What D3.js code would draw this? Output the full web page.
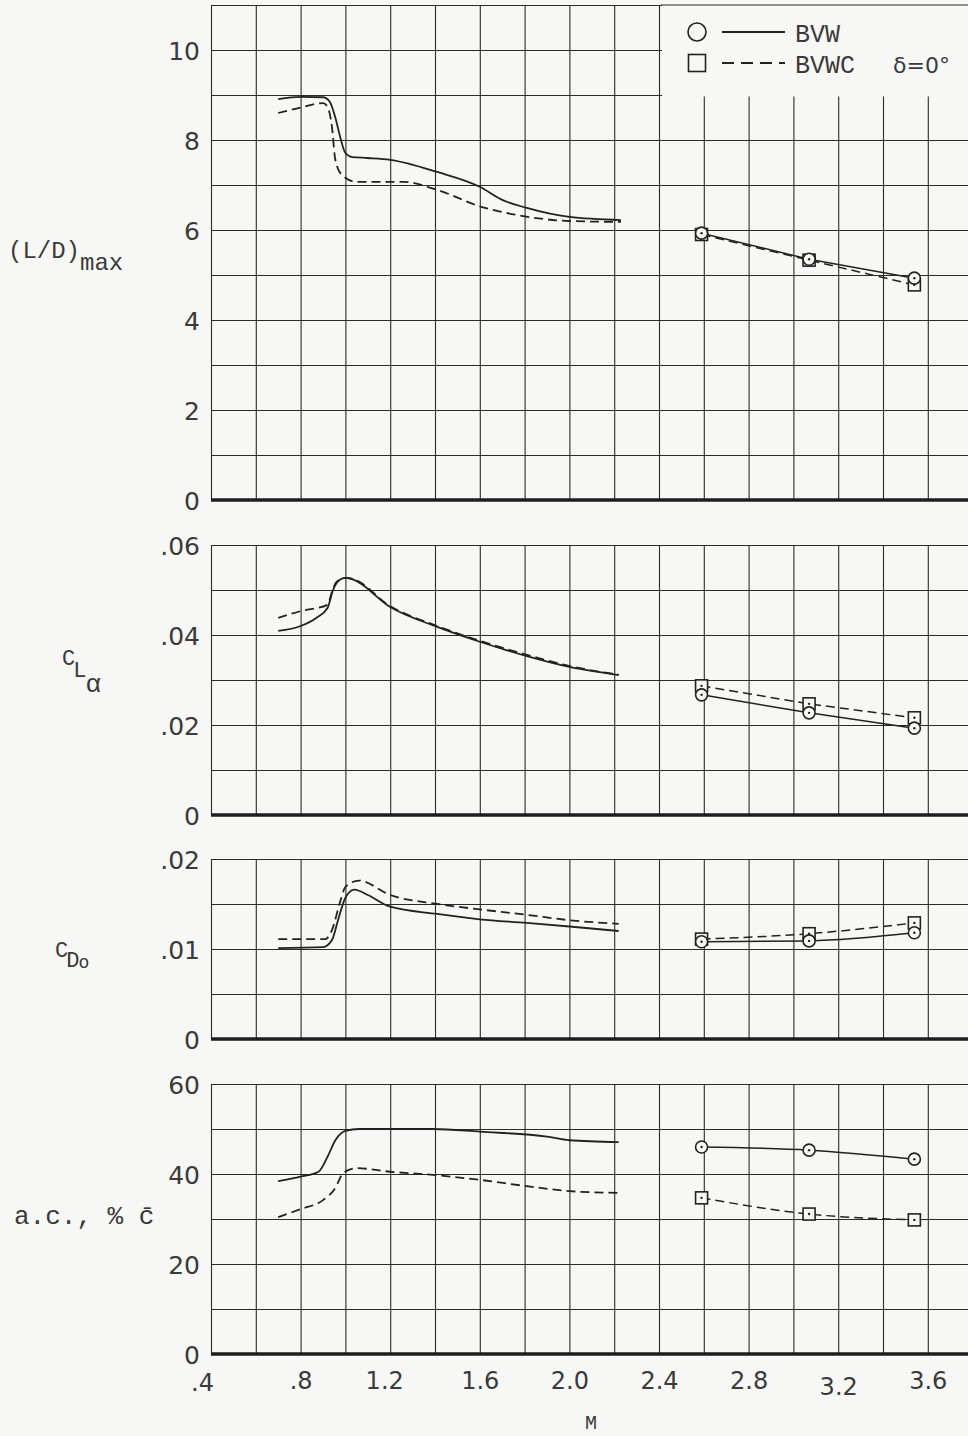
<!DOCTYPE html>
<html>
<head>
<meta charset="utf-8">
<script src="https://cdn.jsdelivr.net/npm/d3@7"></script>
<style>
  html, body { margin: 0; padding: 0; background: #f7f7f5; }
  svg { display: block; }
</style>
</head>
<body>
<div id="chart"></div>
<script>
// ---- Data ----
// subsonic / transonic fairings: [M, value]
const ldBVW = [[0.70, 8.91], [0.80, 8.96], [0.90, 8.95], [0.93, 8.85], [0.955, 8.5], [0.975, 8.1], [1.00, 7.71], [1.03, 7.62], [1.10, 7.60], [1.20, 7.56], [1.41, 7.29], [1.60, 6.96], [1.70, 6.67], [1.81, 6.49], [2.00, 6.29], [2.23, 6.22]];
const ldBVWC = [[0.70, 8.60], [0.80, 8.72], [0.90, 8.82], [0.92, 8.74], [0.94, 8.29], [0.955, 7.56], [0.985, 7.22], [1.05, 7.07], [1.26, 7.07], [1.41, 6.89], [1.61, 6.51], [1.77, 6.33], [2.00, 6.20], [2.23, 6.18]];

const claBVW = [[0.70, 0.0409], [0.80, 0.0420], [0.87, 0.0438], [0.92, 0.0460], [0.945, 0.0500], [0.965, 0.0518], [1.00, 0.0527], [1.03, 0.0524], [1.20, 0.0462], [1.41, 0.0418], [1.60, 0.0385], [1.81, 0.0353], [2.00, 0.0329], [2.22, 0.0311]];
const claBVWC = [[0.70, 0.0438], [0.80, 0.0453], [0.92, 0.0467], [0.94, 0.0496], [0.96, 0.0518], [1.00, 0.0527], [1.03, 0.0525], [1.20, 0.0464], [1.41, 0.0420], [1.60, 0.0387], [1.81, 0.0356], [2.00, 0.0331], [2.22, 0.0312]];

const cdBVW = [[0.70, 0.0101], [0.90, 0.0102], [0.94, 0.0110], [0.967, 0.0132], [1.00, 0.0157], [1.04, 0.0166], [1.10, 0.0160], [1.20, 0.0147], [1.41, 0.0139], [1.60, 0.0133], [1.81, 0.0129], [2.00, 0.0125], [2.22, 0.0120]];
const cdBVWC = [[0.70, 0.0111], [0.91, 0.0111], [0.94, 0.0121], [0.975, 0.0151], [1.00, 0.0169], [1.06, 0.0176], [1.20, 0.0160], [1.41, 0.0150], [1.60, 0.0144], [1.81, 0.0138], [2.00, 0.0132], [2.22, 0.0128]];

const acBVW = [[0.70, 38.4], [0.80, 39.4], [0.88, 40.5], [0.92, 43.8], [0.955, 47.5], [1.00, 49.6], [1.06, 50.0], [1.39, 50.0], [1.60, 49.4], [1.90, 48.3], [2.00, 47.5], [2.22, 47.1]];
const acBVWC = [[0.70, 30.4], [0.80, 32.2], [0.90, 34.2], [0.955, 36.9], [0.99, 40.2], [1.05, 41.3], [1.20, 40.5], [1.39, 39.8], [1.60, 38.7], [1.81, 37.3], [2.00, 36.2], [2.22, 35.8]];

// supersonic test points
const machSup = [2.59, 3.07, 3.54];
const ldSupBVW = [5.93, 5.35, 4.93];
const ldSupBVWC = [5.90, 5.33, 4.78];
const claSupBVW = [0.0267, 0.0227, 0.0193];
const claSupBVWC = [0.0287, 0.0247, 0.0216];
const cdSupBVW = [0.0108, 0.0109, 0.0118];
const cdSupBVWC = [0.0111, 0.0117, 0.0129];
const acSupBVW = [46.0, 45.3, 43.3];
const acSupBVWC = [34.7, 31.1, 29.8];

const machTicks = [0.4, 0.8, 1.2, 1.6, 2.0, 2.4, 2.8, 3.2, 3.6];
const machTickLabels = ['.4', '.8', '1.2', '1.6', '2.0', '2.4', '2.8', '3.2', '3.6'];

// ---- Layout ----
const W = 968, H = 1436;
const X0 = 211, X1 = 968;
const BG = '#f7f7f5';
const INK = '#2b2b2b';
const TXT = '#3a3a3a';
const TICK_FONT = 'DejaVu Sans, sans-serif';
const TYPE_FONT = 'Liberation Mono, DejaVu Sans Mono, monospace';

const x = d3.scaleLinear().domain([0.4, 0.4 + (X1 - X0) / 224]).range([X0, X1]);

const panels = [
  { top: 5, bottom: 500, max: 11, step: 1, ticks: [0, 2, 4, 6, 8, 10], fmt: d => String(d),
    sub: [ldBVW, ldBVWC], sup: [ldSupBVW, ldSupBVWC], supCurve: d3.curveLinear },
  { top: 545, bottom: 815, max: 0.06, step: 0.01, ticks: [0, 0.02, 0.04, 0.06], fmt: d => d === 0 ? '0' : d3.format('.2f')(d).slice(1),
    sub: [claBVW, claBVWC], sup: [claSupBVW, claSupBVWC], supCurve: d3.curveLinear },
  { top: 859, bottom: 1039, max: 0.02, step: 0.005, ticks: [0, 0.01, 0.02], fmt: d => d === 0 ? '0' : d3.format('.2f')(d).slice(1),
    sub: [cdBVW, cdBVWC], sup: [cdSupBVW, cdSupBVWC], supCurve: d3.curveMonotoneX },
  { top: 1084, bottom: 1354, max: 60, step: 10, ticks: [0, 20, 40, 60], fmt: d => String(d),
    sub: [acBVW, acBVWC], sup: [acSupBVW, acSupBVWC], supCurve: d3.curveMonotoneX },
];

const svg = d3.select('#chart').append('svg')
  .attr('width', W).attr('height', H)
  .style('background', BG);

const gGrid = svg.append('g');
const gLegendBox = svg.append('g');
const gData = svg.append('g');
const gText = svg.append('g');

const dashes = ['none', '9,5'];

panels.forEach((p, pi) => {
  const y = d3.scaleLinear().domain([0, p.max]).range([p.bottom, p.top]);
  const nLines = Math.round(p.max / p.step);
  const yGrid = d3.range(0, nLines + 1).map(i => i * p.step);

  // horizontal grid
  const hAxis = d3.axisLeft(y).tickValues(yGrid).tickSize(-(X1 - X0)).tickFormat('');
  gGrid.append('g').attr('transform', `translate(${X0},0)`).call(hAxis)
    .call(g => g.select('.domain').remove())
    .call(g => g.selectAll('line').attr('stroke', INK).attr('stroke-width', 1.1));

  // vertical grid
  const xGrid = d3.range(0, 17).map(i => 0.4 + i * 0.2);
  const vAxis = d3.axisBottom(x).tickValues(xGrid).tickSize(-(p.bottom - p.top)).tickFormat('');
  gGrid.append('g').attr('transform', `translate(0,${p.bottom})`).call(vAxis)
    .call(g => g.select('.domain').remove())
    .call(g => g.selectAll('line').attr('stroke', INK).attr('stroke-width', 1.1));

  // heavy zero line
  gGrid.append('line')
    .attr('x1', X0).attr('x2', X1).attr('y1', y(0)).attr('y2', y(0))
    .attr('stroke', '#1e1e1e').attr('stroke-width', 3.5);

  // tick labels
  const tAxis = d3.axisLeft(y).tickValues(p.ticks).tickSize(0).tickPadding(0).tickFormat(p.fmt);
  gText.append('g').attr('transform', `translate(200,0)`).call(tAxis)
    .call(g => g.select('.domain').remove())
    .call(g => g.selectAll('text')
      .attr('fill', TXT).attr('font-family', TICK_FONT)
      .attr('font-size', 25).attr('dy', '0.36em'));

  // subsonic fairings
  const line = d3.line().x(d => x(d[0])).y(d => y(d[1])).curve(d3.curveMonotoneX);
  p.sub.forEach((s, si) => {
    gData.append('path').attr('d', line(s))
      .attr('fill', 'none').attr('stroke', '#222').attr('stroke-width', 1.8)
      .attr('stroke-dasharray', dashes[si]);
  });

  // supersonic points
  const supLine = d3.line().x((d, i) => x(machSup[i])).y(d => y(d)).curve(p.supCurve);
  p.sup.forEach((s, si) => {
    gData.append('path').attr('d', supLine(s))
      .attr('fill', 'none').attr('stroke', '#222').attr('stroke-width', 1.5)
      .attr('stroke-dasharray', dashes[si]);
  });
  // squares first, circles on top
  [1, 0].forEach(si => {
    const g = gData.append('g');
    p.sup[si].forEach((v, i) => drawMarker(g, si, x(machSup[i]), y(v), si ? 12 : 6, true));
  });
});

function drawMarker(g, kind, cx, cy, size, dot) {
  if (kind === 0) {
    g.append('circle').attr('cx', cx).attr('cy', cy).attr('r', size)
      .attr('fill', BG).attr('stroke', '#222').attr('stroke-width', 1.6);
  } else {
    g.append('rect').attr('x', cx - size / 2).attr('y', cy - size / 2)
      .attr('width', size).attr('height', size)
      .attr('fill', BG).attr('stroke', '#222').attr('stroke-width', 1.6);
  }
  if (dot) g.append('circle').attr('cx', cx).attr('cy', cy).attr('r', 1.2).attr('fill', '#222');
}

// x tick labels
const xAxis = d3.axisBottom(x).tickValues(machTicks).tickSize(0).tickPadding(0)
  .tickFormat((d, i) => machTickLabels[i]);
gText.append('g').attr('transform', 'translate(0,1389)').call(xAxis)
  .call(g => g.select('.domain').remove())
  .call(g => g.selectAll('text')
    .attr('fill', TXT).attr('font-family', TICK_FONT)
    .attr('font-size', 24).attr('dy', 0)
    .attr('dx', (d, i) => i === 0 ? -9 : (i === 2 ? -6 : 0))
    .attr('y', (d, i) => i === 7 ? 6 : (i === 0 ? 2 : 0)));

gText.append('text').attr('x', 591).attr('y', 1429).attr('text-anchor', 'middle')
  .attr('font-family', TYPE_FONT).attr('font-size', 20).attr('fill', TXT).text('M');

// y-axis titles
const t1 = gText.append('text').attr('x', 8).attr('y', 258)
  .attr('font-family', TYPE_FONT).attr('font-size', 24).attr('fill', TXT);
t1.append('tspan').text('(L/D)');
t1.append('tspan').attr('dy', 12).text('max');

const t2 = gText.append('text').attr('x', 62).attr('y', 665)
  .attr('font-family', TYPE_FONT).attr('font-size', 22).attr('fill', TXT);
t2.append('tspan').text('C');
t2.append('tspan').attr('dy', 12).attr('dx', -2).text('L');
t2.append('tspan').attr('dy', 15).attr('dx', -1).attr('font-size', 26).text('α');

const t3 = gText.append('text').attr('x', 55).attr('y', 957)
  .attr('font-family', TYPE_FONT).attr('font-size', 22).attr('fill', TXT);
t3.append('tspan').text('C');
t3.append('tspan').attr('dy', 10).attr('dx', -2).text('D');
t3.append('tspan').attr('dy', 1).attr('dx', -1).attr('font-size', 18).text('o');

gText.append('text').attr('x', 14).attr('y', 1224)
  .attr('font-family', TYPE_FONT).attr('font-size', 26).attr('fill', TXT)
  .text('a.c., % c̄');

// ---- Legend ----
gLegendBox.append('rect').attr('x', 662).attr('y', 0).attr('width', W - 662).attr('height', 96.5)
  .attr('fill', BG);
gLegendBox.append('line').attr('x1', 661).attr('x2', W).attr('y1', 5).attr('y2', 5)
  .attr('stroke', INK).attr('stroke-width', 1.1);
const gl = svg.append('g');
drawMarker(gl, 0, 697, 32, 9, false);
drawMarker(gl, 1, 697, 63, 17, false);
gl.append('line').attr('x1', 722).attr('x2', 785).attr('y1', 32).attr('y2', 32)
  .attr('stroke', '#222').attr('stroke-width', 1.8);
gl.append('line').attr('x1', 722).attr('x2', 785).attr('y1', 63).attr('y2', 63)
  .attr('stroke', '#222').attr('stroke-width', 1.8).attr('stroke-dasharray', '12,7');
gl.append('text').attr('x', 795).attr('y', 42).attr('font-family', TYPE_FONT)
  .attr('font-size', 25).attr('fill', TXT).text('BVW');
gl.append('text').attr('x', 795).attr('y', 73).attr('font-family', TYPE_FONT)
  .attr('font-size', 25).attr('fill', TXT).text('BVWC');
gl.append('text').attr('x', 893).attr('y', 73).attr('font-family', TICK_FONT)
  .attr('font-size', 22).attr('fill', TXT).text('δ=0°');
</script>
</body>
</html>
